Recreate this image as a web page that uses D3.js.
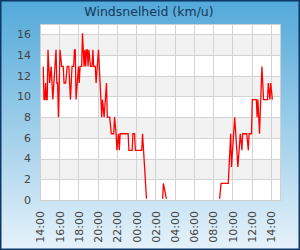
<!DOCTYPE html>
<html><head><meta charset="utf-8">
<script src="https://cdn.jsdelivr.net/npm/d3@7"></script>
<style>html,body{margin:0;padding:0;background:#fff}svg{display:block}</style>
</head><body>
<script>
const title = "Windsnelheid (km/u)";
const times = ["14:20","14:25","14:30","14:35","14:40","14:45","14:50","15:00","15:10","15:20","15:40","15:45","15:50","15:55","16:05","16:15","16:25","16:30","16:40","16:50","17:00","17:10","17:20","17:30","17:35","17:40","17:45","18:00","18:05","18:10","18:20","18:25","18:35","18:40","18:45","18:50","18:55","19:00","19:05","19:15","19:25","19:30","19:35","19:45","19:50","20:05","20:20","20:25","20:30","20:40","20:55","21:00","21:15","21:25","21:40","21:45","21:55","22:00","22:10","22:15","22:20","23:10","23:15","23:35","23:40","23:50","23:55","00:35","00:40","01:05","02:45","02:50","03:10","08:40","08:50","09:35","09:50","09:55","10:15","10:35","10:50","11:00","11:05","11:30","11:40","11:45","12:00","12:05","12:30","12:35","12:40","12:50","13:05","13:15","13:40","13:45","13:55","14:00","14:10"];
const speeds = [12.9,9.7,9.7,11.3,9.7,9.7,14.5,11.3,12.9,9.7,14.5,11.3,11.3,8.0,14.5,12.9,12.9,11.3,11.3,12.9,12.9,9.7,12.9,12.9,14.5,14.5,9.7,12.9,11.3,12.9,12.9,16.1,12.9,14.5,12.9,14.5,14.5,12.9,14.5,12.9,12.9,14.5,12.9,12.9,11.3,14.5,9.7,8.0,9.7,8.0,11.3,8.0,8.0,6.4,6.4,8.0,6.4,4.8,6.4,4.8,6.4,6.4,4.8,4.8,6.4,6.4,4.8,4.8,6.4,0,0,1.6,0,0,1.6,1.6,6.4,3.2,8.0,3.2,6.4,4.8,6.4,6.4,4.8,6.4,6.4,9.7,9.7,8.0,9.7,6.4,12.9,9.7,9.7,11.3,9.7,11.3,9.7];
const yTicks = [0,2,4,6,8,10,12,14,16];
const axisStart = "14:00", axisEnd = "15:04";

const W = 300, H = 250;
const L = 40, R = 281, T = 24, B = 200;

function toDates(arr){
  let day = 0, prev = -1;
  return arr.map(s => {
    const [h, m] = s.split(":").map(Number);
    const mm = h*60+m;
    if (mm < prev) day++;
    prev = mm;
    return new Date(2024, 0, 1+day, h, m);
  });
}
const dates = toDates(times);
const data = dates.map((d,i)=>({date:d, v:speeds[i]}));
const [sh, sm] = axisStart.split(":").map(Number);
const [eh, em] = axisEnd.split(":").map(Number);
const x = d3.scaleTime().domain([new Date(2024,0,1,sh,sm), new Date(2024,0,2,eh,em)]).range([L, R]);
const y = d3.scaleLinear().domain([0,17]).range([B, T]);

const svg = d3.select("body").append("svg").attr("width", W).attr("height", H);
const defs = svg.append("defs");
const g = defs.append("linearGradient").attr("id","bg").attr("x1",0).attr("y1",0).attr("x2",0).attr("y2",1);
g.append("stop").attr("offset","0%").attr("stop-color","#52a9d9");
g.append("stop").attr("offset","100%").attr("stop-color","#e6f2fa");
defs.append("clipPath").attr("id","clip").append("rect")
  .attr("x", L).attr("y", T).attr("width", R-L).attr("height", B-T-1.2);

svg.append("rect").attr("x",0.75).attr("y",0.75).attr("width",W-1.5).attr("height",H-1.5)
  .attr("fill","url(#bg)").attr("stroke","#0d3766").attr("stroke-width",1.5);

svg.append("text").attr("x",149).attr("y",16).attr("text-anchor","middle")
  .attr("font-family","DejaVu Sans").attr("font-size",12.5).attr("fill","#17385a").text(title);

// plot background
svg.append("rect").attr("x",L).attr("y",T).attr("width",R-L).attr("height",B-T).attr("fill","#fff");
// bands
const bands = yTicks.filter(v => v % 4 === 2);
svg.append("g").selectAll("rect").data(bands).join("rect")
  .attr("x", L).attr("width", R-L)
  .attr("y", d => y(d+2)).attr("height", d => y(d)-y(d+2))
  .attr("fill","#f2f2f2");

// grid
const grid = svg.append("g").attr("stroke","#d3d3d3").attr("stroke-width",1).attr("shape-rendering","crispEdges");
grid.selectAll("line.h").data(yTicks).join("line").attr("class","h")
  .attr("x1",L).attr("x2",R).attr("y1",d=>Math.round(y(d))+0.5).attr("y2",d=>Math.round(y(d))+0.5);
const xt = x.ticks(d3.timeHour.every(2));
grid.selectAll("line.v").data(xt).join("line").attr("class","v")
  .attr("y1",T).attr("y2",B).attr("x1",d=>Math.round(x(d))+0.5).attr("x2",d=>Math.round(x(d))+0.5);

// line
svg.append("path").datum(data).attr("clip-path","url(#clip)")
  .attr("fill","none").attr("stroke","#ff0000").attr("stroke-width",1.3)
  .attr("stroke-linejoin","miter")
  .attr("d", d3.line().x(d=>x(d.date)).y(d=>y(d.v)));

// border
svg.append("rect").attr("x",L+0.5).attr("y",T+0.5).attr("width",R-L-1).attr("height",B-T)
  .attr("fill","none").attr("stroke","#cfcfcf").attr("stroke-width",1);

// y labels
svg.append("g").selectAll("text").data(yTicks).join("text")
  .attr("x",31).attr("y",d=>y(d)).attr("dy","0.35em").attr("text-anchor","end")
  .attr("font-family","DejaVu Sans").attr("font-size",11).attr("fill","#444")
  .text(d=>d);

// x labels
const fmt = d3.timeFormat("%H:%M");
svg.append("g").selectAll("text").data(xt).join("text")
  .attr("transform", d=>`translate(${x(d)+0.5},211) rotate(-90)`)
  .attr("dy","0.35em").attr("text-anchor","end")
  .attr("font-family","DejaVu Sans").attr("font-size",11).attr("fill","#444")
  .text(d=>fmt(d));
</script>
</body></html>
